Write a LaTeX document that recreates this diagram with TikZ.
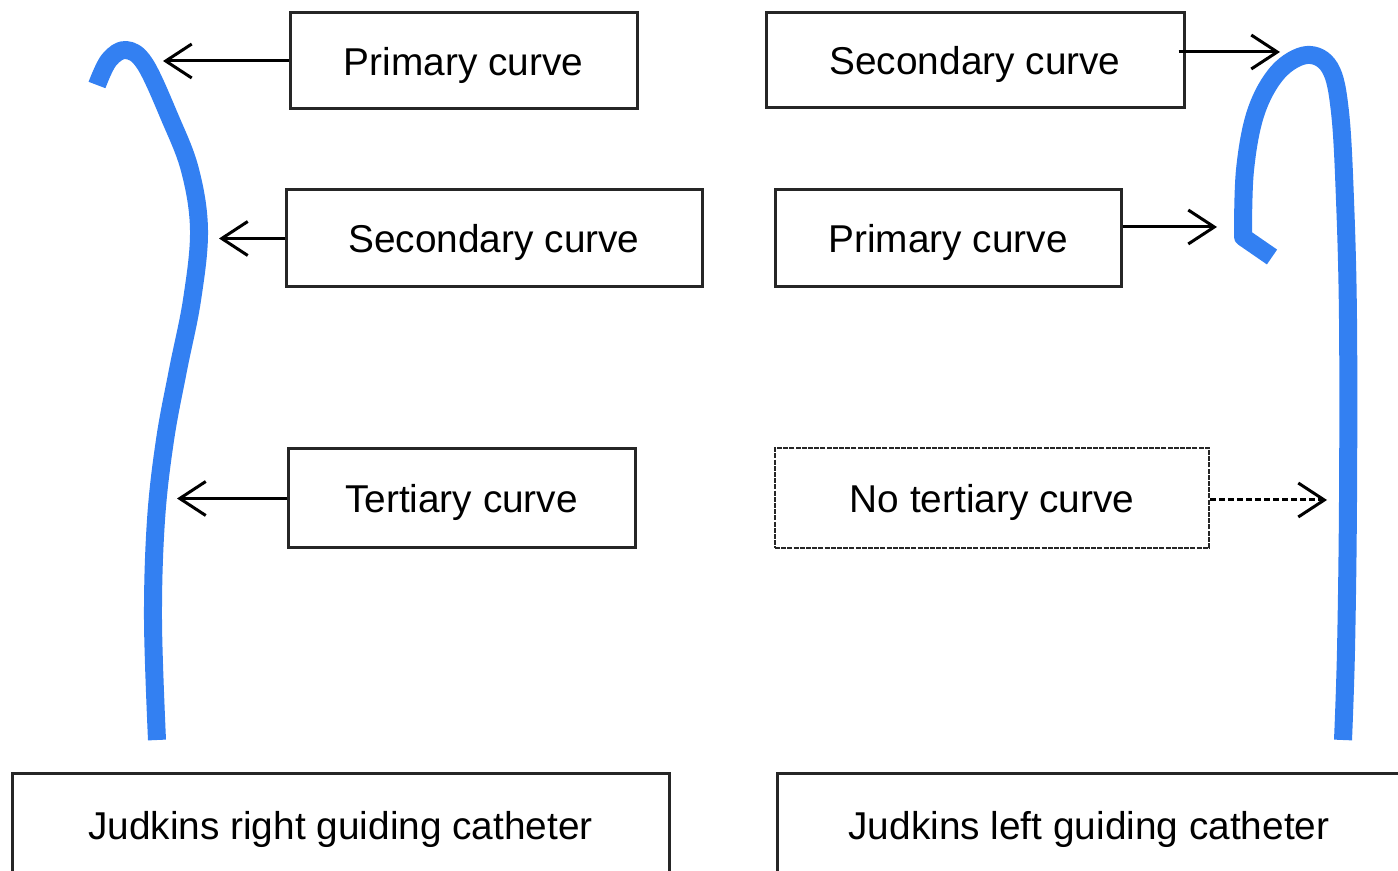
\documentclass[tikz,border=0pt]{standalone}
\usepackage{fontspec}
\setmainfont{Liberation Sans}
\usetikzlibrary{arrows.meta}
\definecolor{cathblue}{RGB}{51,128,242}
\begin{document}
\begin{tikzpicture}[x=0.5pt,y=-0.5pt,
  box/.style={draw=black!85,line width=1.5pt,inner sep=0pt,text depth=0pt,font=\fontsize{19.4}{23}\selectfont},
  dbox/.style={box,dash pattern=on 2.5pt off 0.6pt,line width=1.3pt},
  lbl/.style={-{Straight Barb[length=13pt,width=17pt]},line width=1.5pt},
  dlbl/.style={lbl,dash pattern=on 3pt off 1.5pt},
  catheter/.style={draw=cathblue,line width=9pt,line join=round}]
\useasboundingbox (0,0) rectangle (1398,871);

% left column boxes
\node[box,minimum width=173.5pt,minimum height=48pt] (p1) at (463.5,61) {Primary curve};
\node[box,minimum width=208pt,minimum height=48.5pt] (s1) at (494,238.5) {Secondary curve};
\node[box,minimum width=173.5pt,minimum height=49.5pt] (t1) at (461.5,498.5) {Tertiary curve};

% right column boxes
\node[box,minimum width=209pt,minimum height=47.5pt] (s2) at (975,60.5) {Secondary curve};
\node[box,minimum width=173pt,minimum height=48.5pt] (p2) at (948,238.5) {Primary curve};
\node[dbox,minimum width=217pt,minimum height=50pt] (n2) at (992,498) {No tertiary curve};

% bottom boxes (cut by the page edge)
\node[box,minimum width=328.5pt,minimum height=52pt] (jr) at (340.5,825) {Judkins right guiding catheter};
\node[box,minimum width=312pt,minimum height=52pt] (jl) at (1089,825) {Judkins left guiding catheter};

% arrow tips
\coordinate (p1t) at (163,60);
\coordinate (s1t) at (219,231);
\coordinate (t1t) at (177,500);
\coordinate (s2t) at (1280,52);
\coordinate (p2t) at (1217,227);
\coordinate (n2t) at (1327,500);

\draw[lbl] (p1.west) -- (p1.west -| p1t);
\draw[lbl] (s1.west) -- (s1.west -| s1t);
\draw[lbl] (t1.west) -- (t1.west -| t1t);
\draw[lbl] (s2.east |- s2t) ++(-7,0) -- (s2t);
\draw[lbl] (p2.east |- p2t) -- (p2t);
\draw[dlbl] (n2.east |- n2t) -- (n2t);

% Judkins right catheter
\draw[catheter] plot[smooth,tension=0.6] coordinates {(97,85) (109,60) (126,50) (145,64) (170,118) (190,170) (199,230) (192,300) (178,370) (165,440) (156,520) (153,620) (157,740)};

% Judkins left catheter
\draw[catheter] (1272,257) -- plot[smooth,tension=0.6] coordinates {(1243,237) (1245,170) (1256,112) (1278,72) (1307,55) (1330,68) (1340,112) (1345,200) (1348,320) (1348,500) (1346,650) (1343,740)};
\end{tikzpicture}
\end{document}
